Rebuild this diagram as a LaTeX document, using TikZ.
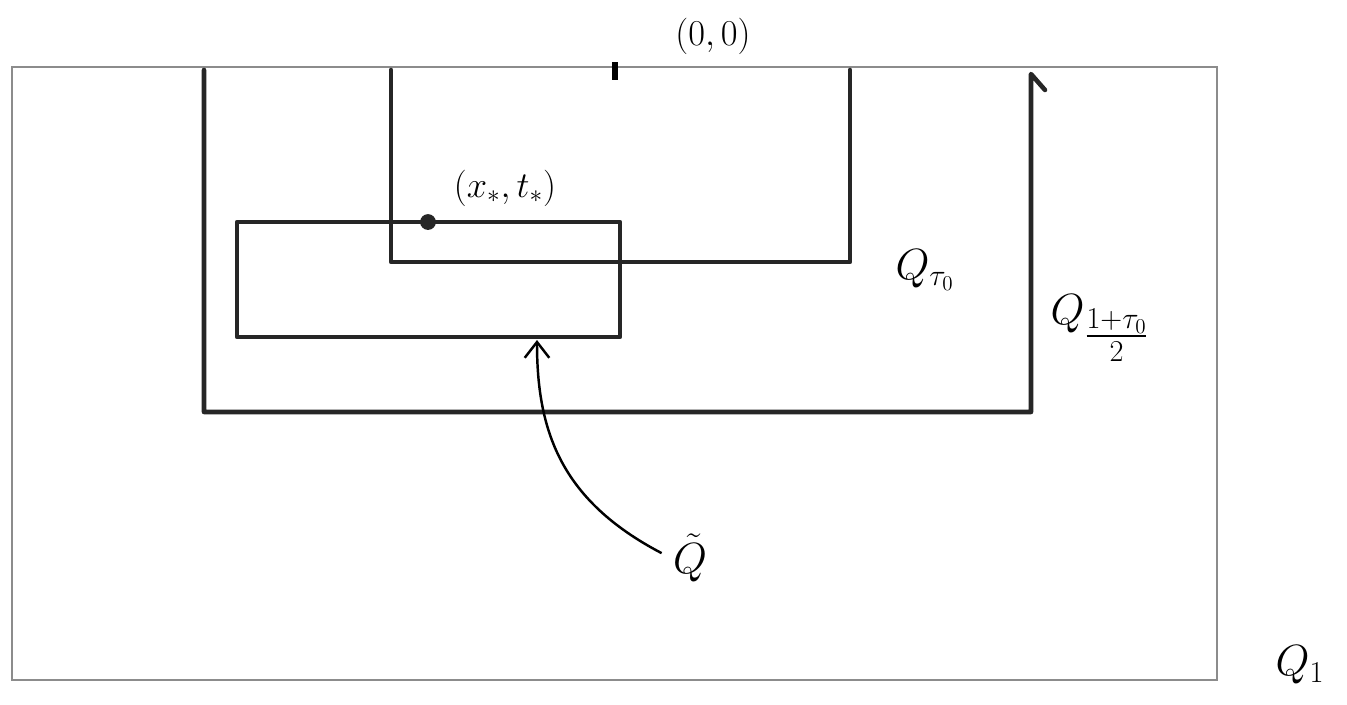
\documentclass[tikz,border=0pt]{standalone}
\usepackage{amsmath}
\usetikzlibrary{arrows.meta}
\begin{document}
\begin{tikzpicture}[x=0.02cm,y=-0.02cm,
  thickline/.style={line width=2.6pt,black!85,line cap=round,line join=round},
  thinline/.style={line width=0.8pt,black!45},
  lab/.style={font=\fontsize{22}{26}\selectfont,inner sep=1pt},
  biglab/.style={font=\fontsize{26}{30}\selectfont,inner sep=1pt}]
\useasboundingbox (0,0) rectangle (1347,704);
% outer cube Q_1
\draw[thinline] (12,67) rectangle (1217,680);
% coordinates
\coordinate (m1) at (204,70);
\coordinate (m2) at (204,412);
\coordinate (m3) at (1031,412);
\coordinate (m4) at (1031,74);
\coordinate (i1) at (391,70);
\coordinate (i2) at (391,262);
\coordinate (i3) at (850,262);
\coordinate (i4) at (850,70);
% middle cylinder
\draw[thickline] (m1) -- (m2) -- (m3) -- (m4) -- ++(14,16);
% inner cylinder
\draw[thickline] (i1) -- (i2) -- (i3) -- (i4);
% tilde Q
\draw[thickline] (237,222) rectangle (620,337);
\coordinate (tq) at (537,340);
% point
\node[circle,fill=black!85,minimum size=9pt,inner sep=0pt] (pt) at (428,222) {};
% tick at origin
\draw[line width=3pt] (615,62) -- (615,80);
% labels
\node[lab] (o) at (713,36) {$(0,0)$};
\node[lab] (xt) at (505,188) {$(x_*,t_*)$};
\node[biglab] (qt) at (925,270) {$Q_{\tau_0}$};
\node[biglab] (qm) at (1100,328) {$Q_{\textstyle\frac{1+\tau_0}{2}}$};
\node[biglab] (q1) at (1300,665) {$Q_1$};
\node[biglab] (qtil) at (690,558) {$\tilde{Q}$};
% arrow
\draw[line width=1.4pt,-{Straight Barb[length=9pt,width=14pt]},shorten <=6pt] (qtil.west) .. controls (560,500) and (537,430) .. (tq);
\end{tikzpicture}
\end{document}
